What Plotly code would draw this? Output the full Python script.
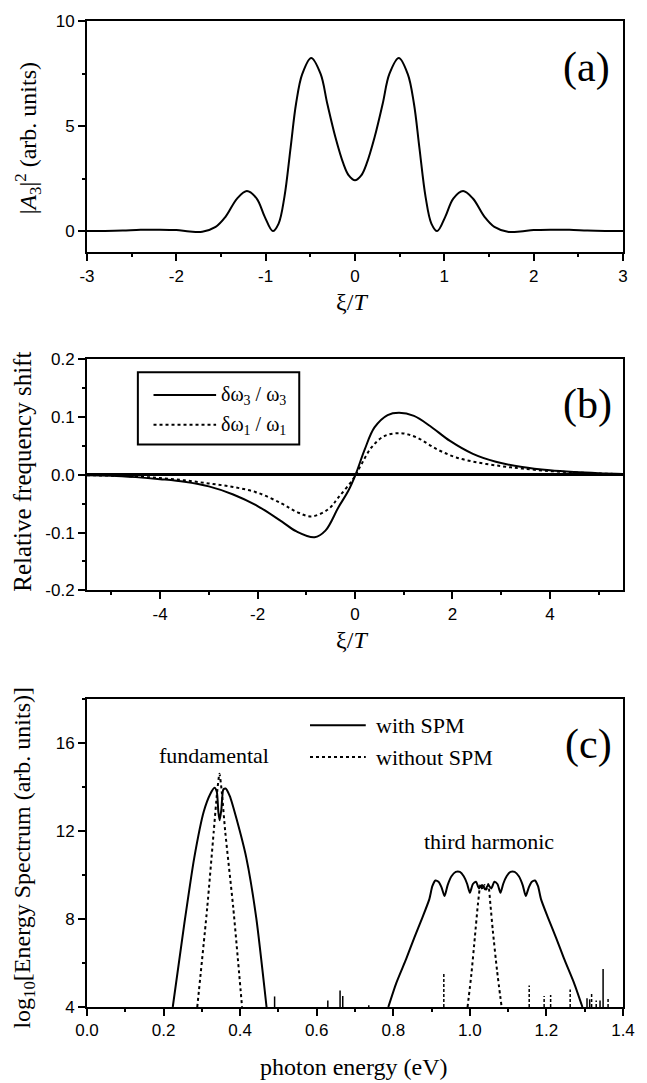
import plotly.graph_objects as go

SERIF = "Liberation Serif, Times New Roman, serif"
SANS = "Liberation Sans, Arial, Helvetica, sans-serif"

# ---------------- (a) third-harmonic intensity profile ----------------
xi_a = [-3.0, -2.8, -2.6, -2.4, -2.2, -2.0, -1.85, -1.71, -1.56, -1.45, -1.32,
        -1.21, -1.10, -1.01, -0.92, -0.855, -0.79, -0.72, -0.66, -0.59, -0.49,
        -0.385, -0.31, -0.22, -0.13, -0.07, 0.0, 0.07, 0.13, 0.22, 0.31, 0.385,
        0.49, 0.59, 0.66, 0.72, 0.79, 0.855, 0.92, 1.01, 1.10, 1.21, 1.32, 1.45,
        1.56, 1.71, 1.85, 2.0, 2.2, 2.4, 2.6, 2.8, 3.0]
a3_sq = [0.0, 0.01, 0.03, 0.06, 0.07, 0.05, -0.02, -0.03, 0.2, 0.68, 1.55,
         1.91, 1.55, 0.68, 0.0, 0.36, 1.63, 4.0, 6.06, 7.48, 8.24,
         7.48, 6.06, 4.48, 3.21, 2.65, 2.42, 2.65, 3.21, 4.48, 6.06, 7.48,
         8.24, 7.48, 6.06, 4.0, 1.63, 0.36, 0.0, 0.68, 1.55, 1.91, 1.55, 0.68,
         0.2, -0.03, -0.02, 0.05, 0.07, 0.06, 0.03, 0.01, 0.0]
a_xticks = [-3, -2, -1, 0, 1, 2, 3]
a_xlabels = ["-3", "-2", "-1", "0", "1", "2", "3"]
a_yticks = [0, 5, 10]
a_ylabels = ["0", "5", "10"]

# ---------------- (b) relative frequency shifts ----------------
xi_b3 = [-5.5, -5.0, -4.5, -4.0, -3.5, -3.0, -2.5, -2.0, -1.5, -1.2, -0.83,
         -0.607, -0.339, -0.137, 0.01, 0.20, 0.40, 0.67, 0.905, 1.21, 1.54,
         1.95, 2.42, 2.89, 3.43, 4.0, 4.5, 5.0, 5.5]
shift_w3 = [-0.0008, -0.0015, -0.004, -0.0075, -0.012, -0.020, -0.034, -0.054,
            -0.081, -0.098, -0.108, -0.0966, -0.056, -0.0276, 0.0, 0.044, 0.082,
            0.1035, 0.1075, 0.102, 0.0845, 0.0586, 0.0362, 0.0225, 0.0135,
            0.0078, 0.0048, 0.0028, 0.0015]
xi_b1 = [-5.5, -5.0, -4.5, -4.0, -3.5, -3.0, -2.5, -2.0, -1.5, -1.2, -0.9,
         -0.54, -0.34, -0.036, 0.13, 0.335, 0.60, 0.94, 1.27, 1.68, 2.08, 2.55,
         3.02, 3.43, 4.0, 4.5, 5.0, 5.5]
shift_w1 = [-0.0007, -0.0014, -0.003, -0.0055, -0.0095, -0.015, -0.021, -0.031,
            -0.050, -0.064, -0.072, -0.059, -0.039, -0.007, 0.018, 0.047, 0.067,
            0.072, 0.0645, 0.0443, 0.030, 0.0208, 0.0148, 0.0108, 0.0065,
            0.0042, 0.0024, 0.001]
b_xticks = [-4, -2, 0, 2, 4]
b_xlabels = ["-4", "-2", "0", "2", "4"]
b_yticks = [-0.2, -0.1, 0.0, 0.1, 0.2]
b_ylabels = ["-0.2", "-0.1", "0.0", "0.1", "0.2"]
b_names = ["δω<sub>3</sub> / ω<sub>3</sub>", "δω<sub>1</sub> / ω<sub>1</sub>"]

# ---------------- (c) log10 energy spectrum ----------------
fund_ev_spm = [0.224, 0.254, 0.28, 0.305, 0.322, 0.333, 0.339, 0.343, 0.3465,
               0.351, 0.356, 0.362, 0.373, 0.39, 0.416, 0.442, 0.469]
fund_spm = [4.0, 7.77, 10.78, 12.9, 13.7, 13.98, 13.8, 12.9, 12.5,
            13.0, 13.9, 13.95, 13.6, 12.6, 10.8, 8.07, 4.0]
fund_ev_free = [0.288, 0.314, 0.331, 0.340, 0.346, 0.352, 0.361, 0.382, 0.405]
fund_free = [4.0, 8.52, 11.99, 13.8, 14.62, 13.8, 11.99, 8.52, 4.0]

th_ev_spm = [0.787, 0.808, 0.834, 0.855, 0.876, 0.894, 0.902, 0.91, 0.918,
             0.926, 0.934, 0.942, 0.952, 0.963, 0.974, 0.984, 0.993, 1.0,
             1.008, 1.016, 1.024, 1.032, 1.04, 1.048, 1.056, 1.064, 1.072,
             1.08, 1.087, 1.096, 1.106, 1.117, 1.128, 1.138, 1.146, 1.154,
             1.162, 1.17, 1.178, 1.186, 1.204, 1.225, 1.246, 1.272, 1.294]
th_spm = [4.0, 5.1, 6.2, 7.16, 8.07, 8.9, 9.5, 9.76, 9.7,
          9.45, 9.05, 9.55, 9.95, 10.15, 10.15, 9.95, 9.6, 9.2,
          9.6, 9.7, 9.4, 9.55, 9.35, 9.55, 9.4, 9.7, 9.6,
          9.2, 9.6, 9.95, 10.15, 10.15, 9.95, 9.55, 9.05, 9.45,
          9.7, 9.76, 9.5, 8.9, 8.07, 7.16, 6.2, 5.1, 4.0]
th_ev_free = [0.994, 1.004, 1.013, 1.021, 1.028, 1.033, 1.038, 1.043, 1.048,
              1.054, 1.06, 1.071, 1.083]
th_free = [4.0, 5.5, 7.16, 8.67, 9.6, 9.35, 9.55, 9.35, 9.6,
           8.6, 7.47, 5.66, 4.0]

# numerical noise spikes rising from the floor of the log scale
spike_ev_spm = [0.490, 0.629, 0.661, 0.668, 0.736, 1.306, 1.313, 1.340, 1.348]
spike_top_spm = [4.48, 4.3, 4.75, 4.5, 4.08, 4.4, 4.35, 4.3, 5.73]
spike_ev_free = [0.932, 1.155, 1.194, 1.211, 1.262, 1.318, 1.33, 1.361]
spike_top_free = [5.58, 4.98, 4.5, 4.55, 4.8, 4.65, 4.3, 4.4]
c_floor = 4.0
c_xticks = [0.0, 0.2, 0.4, 0.6, 0.8, 1.0, 1.2, 1.4]
c_xlabels = ["0.0", "0.2", "0.4", "0.6", "0.8", "1.0", "1.2", "1.4"]
c_yticks = [4, 8, 12, 16]
c_ylabels = ["4", "8", "12", "16"]
c_names = ["with SPM", "without SPM"]


def spike_path(xs, tops, base):
    px_, py_ = [], []
    for x, t in zip(xs, tops):
        px_ += [x, x, None]
        py_ += [base, t, None]
    return px_, py_


SOLID = dict(color="black", width=2)
DOT = dict(color="black", width=2, dash="3px,3px")

fig = go.Figure()

# (a)
fig.add_trace(go.Scatter(x=xi_a, y=a3_sq, mode="lines", line=dict(SOLID, shape="spline"),
                         xaxis="x", yaxis="y", showlegend=False))

# (b)
fig.add_trace(go.Scatter(x=xi_b1, y=shift_w1, mode="lines", line=dict(DOT, shape="spline"),
                         xaxis="x2", yaxis="y2", showlegend=False, name=b_names[1]))
fig.add_trace(go.Scatter(x=xi_b3, y=shift_w3, mode="lines", line=dict(SOLID, shape="spline"),
                         xaxis="x2", yaxis="y2", showlegend=False, name=b_names[0]))

# (c)
sx, sy = spike_path(spike_ev_free, spike_top_free, c_floor)
fig.add_trace(go.Scatter(x=sx, y=sy, mode="lines", line=dict(color="black", width=1.5, dash="3px,2px"),
                         xaxis="x3", yaxis="y3", showlegend=False, connectgaps=False))
sx, sy = spike_path(spike_ev_spm, spike_top_spm, c_floor)
fig.add_trace(go.Scatter(x=sx, y=sy, mode="lines", line=dict(color="black", width=1.5),
                         xaxis="x3", yaxis="y3", showlegend=False, connectgaps=False))
fig.add_trace(go.Scatter(x=fund_ev_free, y=fund_free, mode="lines", line=dict(DOT, shape="spline", smoothing=0.6),
                         xaxis="x3", yaxis="y3", showlegend=False, name=c_names[1]))
fig.add_trace(go.Scatter(x=th_ev_free, y=th_free, mode="lines", line=dict(DOT, shape="spline", smoothing=0.6),
                         xaxis="x3", yaxis="y3", showlegend=False, name=c_names[1]))
fig.add_trace(go.Scatter(x=fund_ev_spm, y=fund_spm, mode="lines", line=dict(SOLID, shape="spline", smoothing=0.6),
                         xaxis="x3", yaxis="y3", showlegend=False, name=c_names[0]))
fig.add_trace(go.Scatter(x=th_ev_spm, y=th_spm, mode="lines", line=dict(SOLID, shape="spline", smoothing=0.6),
                         xaxis="x3", yaxis="y3", showlegend=False, name=c_names[0]))


def axis(**kw):
    base = dict(showline=True, linecolor="black", linewidth=2, mirror=True,
                ticks="outside", ticklen=7, tickwidth=2, tickcolor="black",
                showgrid=False, zeroline=False, fixedrange=True,
                tickfont=dict(family=SANS, size=17, color="black"))
    base.update(kw)
    return base


def minor(step):
    return dict(ticks="outside", ticklen=3, tickwidth=1.5, tickcolor="black",
                dtick=step, tick0=0, showgrid=False)


# page geometry: plot area spans x 87..635 px and y 13..1007 px
L, R, T, B = 87, 12, 13, 76
W, H = 647, 1083
PW, PH = W - L - R, H - T - B


def px(x):
    return (x - L) / PW


def py(y):
    return (T + PH - y) / PH


dom_a = [py(246), py(13)]
dom_b = [py(587), py(354)]
dom_c = [py(1007), py(697)]

fig.update_layout(
    width=W, height=H,
    margin=dict(l=L, r=R, t=T, b=B, pad=0),
    paper_bgcolor="white", plot_bgcolor="white",
    font=dict(family=SERIF, color="black"),
    showlegend=False,
    xaxis=axis(domain=[0, 1], anchor="y", range=[-3, 3], tickvals=a_xticks, ticktext=a_xlabels,
               minor=minor(0.5)),
    yaxis=axis(domain=dom_a, anchor="x", range=[-1, 10], tickvals=a_yticks, ticktext=a_ylabels,
               minor=minor(2.5)),
    xaxis2=axis(domain=[0, 1], anchor="y2", range=[-5.5, 5.5], tickvals=b_xticks, ticktext=b_xlabels,
                minor=minor(1)),
    yaxis2=axis(domain=dom_b, anchor="x2", range=[-0.2, 0.2], tickvals=b_yticks, ticktext=b_ylabels,
                zeroline=True, zerolinecolor="black", zerolinewidth=2.5,
                minor=minor(0.05)),
    xaxis3=axis(domain=[0, 1], anchor="y3", range=[0, 1.4], tickvals=c_xticks, ticktext=c_xlabels,
                minor=minor(0.1)),
    yaxis3=axis(domain=dom_c, anchor="x3", range=[4, 18], tickvals=c_yticks, ticktext=c_ylabels,
                minor=minor(2)),
)

# legend keys for panels (b) and (c)
KEY_SOLID = dict(color="black", width=2)
KEY_DOT = dict(color="black", width=2, dash="3px,3px")
fig.add_shape(type="rect", xref="paper", yref="paper",
              x0=px(139), x1=px(304), y0=py(440), y1=py(367),
              line=dict(color="black", width=2), fillcolor="white")
fig.add_shape(type="line", xref="paper", yref="paper",
              x0=px(155), x1=px(219), y0=py(390), y1=py(390), line=KEY_SOLID)
fig.add_shape(type="line", xref="paper", yref="paper",
              x0=px(155), x1=px(219), y0=py(420), y1=py(420), line=KEY_DOT)
fig.add_shape(type="line", xref="paper", yref="paper",
              x0=px(315), x1=px(372), y0=py(723), y1=py(723), line=KEY_SOLID)
fig.add_shape(type="line", xref="paper", yref="paper",
              x0=px(315), x1=px(372), y0=py(755), y1=py(755), line=KEY_DOT)

TITLE = dict(family=SERIF, size=24, color="black")
PANEL = dict(family=SERIF, size=42, color="black")
LABEL = dict(family=SERIF, size=22, color="black")
KEY = dict(family=SERIF, size=20, color="black")

notes = [
    # panel tags
    dict(text="(a)", x=px(624), y=py(60), xanchor="right", font=PANEL),
    dict(text="(b)", x=px(626), y=py(400), xanchor="right", font=PANEL),
    dict(text="(c)", x=px(626), y=py(742), xanchor="right", font=PANEL),
    # axis titles
    dict(text="|<i>A</i><sub>3</sub>|<sup>2</sup> (arb. units)", x=px(27), y=py(131),
         textangle=-90, font=TITLE),
    dict(text="ξ/<i>T</i>", x=px(358), y=py(296), font=TITLE),
    dict(text="Relative frequency shift", x=px(21), y=py(467), textangle=-90,
         font=dict(TITLE, size=25)),
    dict(text="ξ/<i>T</i>", x=px(358), y=py(637), font=TITLE),
    dict(text="log<sub>10</sub>[Energy Spectrum (arb. units)]", x=px(23), y=py(856),
         textangle=-90, font=TITLE),
    dict(text="photon energy (eV)", x=px(360), y=py(1067), font=TITLE),
    # peak labels
    dict(text="fundamental", x=px(217), y=py(753), font=LABEL),
    dict(text="third harmonic", x=px(498), y=py(840), font=LABEL),
    # legend texts
    dict(text=b_names[0], x=px(222), y=py(391), xanchor="left", font=KEY),
    dict(text=b_names[1], x=px(222), y=py(421), xanchor="left", font=KEY),
    dict(text=c_names[0], x=px(380), y=py(723), xanchor="left", font=LABEL),
    dict(text=c_names[1], x=px(380), y=py(755), xanchor="left", font=LABEL),
]
for n in notes:
    n.setdefault("xanchor", "center")
    n.setdefault("yanchor", "middle")
    fig.add_annotation(xref="paper", yref="paper", showarrow=False, **n)

fig.write_html("out.html", config={"displayModeBar": False})
